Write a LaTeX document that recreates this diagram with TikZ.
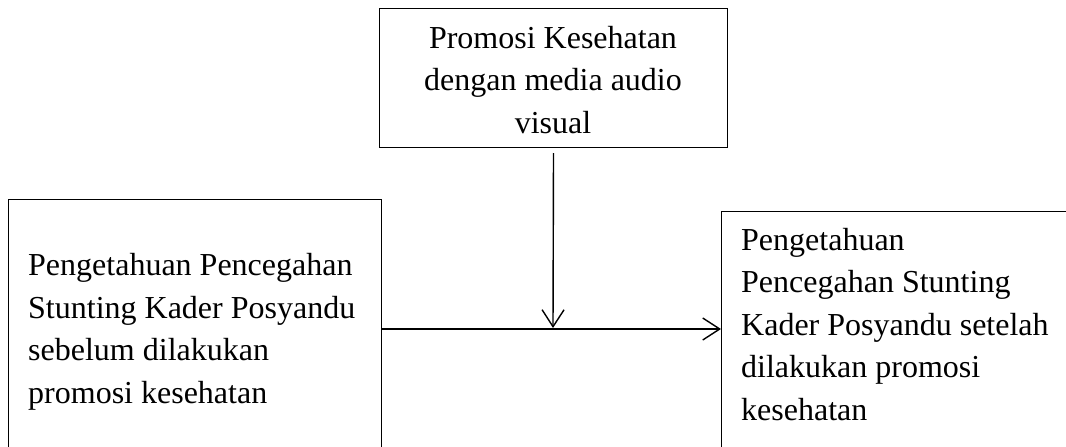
\documentclass[tikz,border=0pt]{standalone}
\usepackage{fontspec}
\setmainfont{Liberation Serif}
\usetikzlibrary{arrows.meta}
\begin{document}
\begin{tikzpicture}[x=1pt,y=-1pt,
  box/.style={draw=black, line width=1pt, rectangle, inner sep=0pt, anchor=north west},
  txt/.style={inner sep=0pt, font=\fontsize{32}{42.5}\selectfont},
  arr/.style={line width=1.4pt, -{Straight Barb[length=17pt,width=22pt,line width=1.4pt]}}]
\clip (0,0) rectangle (1066,447);
\fill[white] (0,0) rectangle (1066,447);
% boxes
\node[box, minimum width=348pt, minimum height=139pt] (top) at (379,8) {};
\node[box, minimum width=373pt, minimum height=290pt] (pre) at (8,199) {};
\node[box, minimum width=380pt, minimum height=280pt] (post) at (721,211) {};
% texts (base anchor = baseline of last line)
\node[txt, anchor=base, align=center] (toptext) at (553,133)
  {Promosi Kesehatan\\dengan media audio\\visual};
\node[txt, anchor=base west, align=left] (pretext) at (28,403)
  {Pengetahuan Pencegahan\\Stunting Kader Posyandu\\sebelum dilakukan\\promosi kesehatan};
\node[txt, anchor=base west, align=left] (posttext) at (741,420)
  {Pengetahuan\\Pencegahan Stunting\\Kader Posyandu setelah\\dilakukan promosi\\kesehatan};
% connectors
\coordinate (mid) at (553,329);
\draw[arr] (pre.east |- mid) -- (post.west |- mid);
\draw[arr] ([yshift=-5pt]top.south) -- ([yshift=1pt]mid);
\end{tikzpicture}
\end{document}
